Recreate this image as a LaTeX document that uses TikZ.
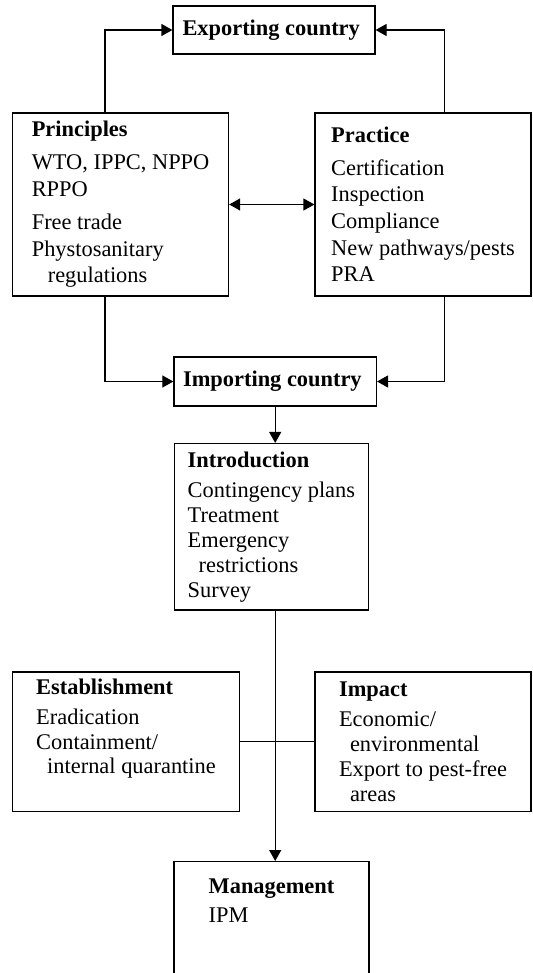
\documentclass[tikz,border=0pt]{standalone}
\usepackage{fontspec}
\setmainfont{Liberation Serif}
\usepackage{tikz}
\usetikzlibrary{arrows.meta, positioning, calc}

\begin{document}
\begin{tikzpicture}[
  box/.style={
    rectangle,
    draw,
    line width=0.6pt,
    align=left,
    inner sep=0pt,
  },
  upper/.style={font=\fontsize{11.2}{13.3}\selectfont},
  lower/.style={font=\fontsize{11.2}{12.4}\selectfont},
  arrow/.style={-{Triangle[length=5.5pt, width=6pt]}, line width=0.6pt}
]
\useasboundingbox (0,0) rectangle (266pt,-486.5pt);

% ===== TRADE PART =====
\node[box, upper, minimum width=101pt, minimum height=24pt] (exporter) at (137pt,-15pt) {
  \textbf{Exporting country}
};

\node[box, upper, minimum width=108pt, minimum height=91.5pt] (principles) at (60.3pt,-102.25pt) {
  \textbf{Principles}\\[3.3pt]
  WTO, IPPC, NPPO\\
  RPPO\\[3.3pt]
  Free trade\\
  Phystosanitary\\
  \hspace*{8pt}regulations
};

\node[box, upper, minimum width=108pt, minimum height=91.5pt] (practice) at (211.5pt,-102.25pt) {
  \textbf{Practice}\\[3pt]
  Certification\\
  Inspection\\
  Compliance\\
  New pathways/pests\\
  PRA
};

\node[box, upper, minimum width=101.25pt, minimum height=24.5pt] (importer) at (137.6pt,-190.75pt) {
  \textbf{Importing country}
};

% ===== PEST PART =====
\node[box, lower, minimum width=97.3pt, minimum height=83.25pt] (intro) at (135.7pt,-263.4pt) {
  \textbf{Introduction}\\[3pt]
  Contingency plans\\
  Treatment\\
  Emergency\\
  \hspace*{5.5pt}restrictions\\
  Survey
};

\node[box, lower, minimum width=113.5pt, minimum height=69.8pt] (estab) at (63pt,-370.9pt) {
  \textbf{Establishment}\\[2.5pt]
  Eradication\\
  Containment/\\
  \hspace*{5.5pt}internal quarantine\\[3pt]
  \mbox{}
};

\node[box, lower, minimum width=108pt, minimum height=69.8pt] (impact) at (211.5pt,-370.9pt) {
  \textbf{Impact}\\[2.5pt]
  Economic/\\
  \hspace*{5.5pt}environmental\\
  Export to pest-free\\
  \hspace*{5.5pt}areas
};

\node[box, lower, minimum width=97.5pt, inner ysep=8.5pt, anchor=north] (mgmt) at (135.75pt,-430.5pt) {
  \textbf{Management}\\[2pt]
  IPM\\[20pt]
  \mbox{}
};

% ===== ARROWS =====
\draw[arrow] ([xshift=-7.8pt]principles.north) |- (exporter.west);
\draw[arrow] ([xshift=10.9pt]practice.north) |- (exporter.east);
\draw[arrow] ([xshift=-7.8pt]principles.south) |- (importer.west);
\draw[arrow] ([xshift=10.9pt]practice.south) |- (importer.east);
\draw[arrow, {Triangle[length=5.5pt, width=6pt]}-{Triangle[length=5.5pt, width=6pt]}] (principles) -- (practice);

\draw[arrow] (importer.south) -- (importer.south |- intro.north);
\draw[arrow] (importer.south |- intro.south) -- (importer.south |- mgmt.north);
\draw[line width=0.6pt] (estab) -- (impact);

\end{tikzpicture}
\end{document}
